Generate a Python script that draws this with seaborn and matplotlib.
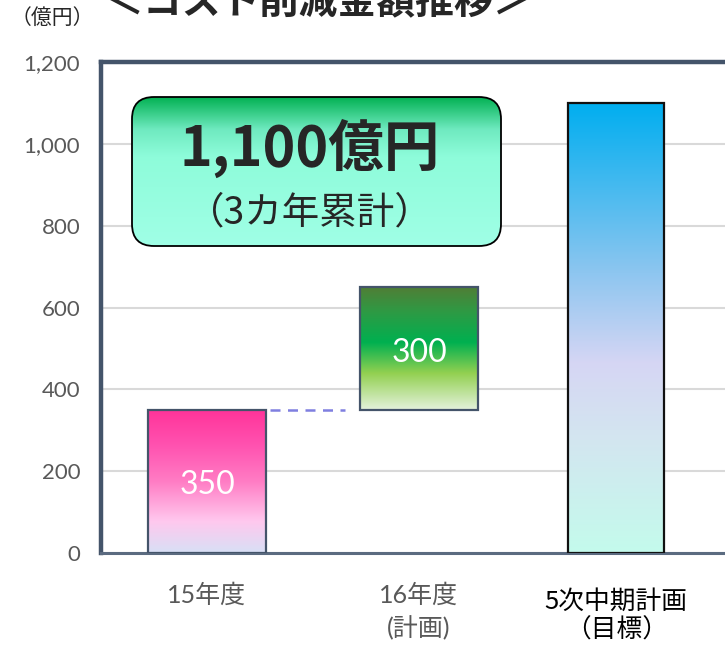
import numpy as np
import matplotlib
matplotlib.use("Agg")
import matplotlib.pyplot as plt
from matplotlib.colors import LinearSegmentedColormap
from matplotlib.patches import FancyBboxPatch
from matplotlib.transforms import ScaledTranslation
import seaborn as sns

# ---- data ----
categories = ["15年度", "16年度\n(計画)", "5次中期計画\n（目標）"]
values = [350, 300, 1100]
bottoms = [0, 350, 0]
value_labels = ["350", "300", ""]
yticks = [0, 200, 400, 600, 800, 1000, 1200]
title = "＜コスト削減金額推移＞"
unit = "（億円）"
box_main = "1,100億円"
box_sub = "（3カ年累計）"

# ---- style ----
sns.set_theme(style="white")
plt.rcParams["font.family"] = ["Lato", "Noto Sans CJK JP", "DejaVu Sans"]

xpos = [0.0, 1.0, 1.93]
widths = [0.557, 0.557, 0.45]
gradients = [
    ["#D8E0F6", "#FFC8EE", "#FF7CC4", "#FF52B0", "#FF3399"],
    ["#E4F2DC", "#92D050", "#00B050", "#2E9A44", "#507E36"],
    ["#C4FBEC", "#D3E6F0", "#D6D6F4", "#8EC6F0", "#00AEEF"],
]
grad_pos = [
    [0.0, 0.22, 0.5, 0.75, 1.0],
    [0.0, 0.3, 0.55, 0.8, 1.0],
    [0.0, 0.25, 0.42, 0.62, 1.0],
]
edgecolors = ["#44546A", "#44546A", "#111111"]

W, H = 725, 647
fig = plt.figure(figsize=(W / 100, H / 100), dpi=100)
ax = fig.add_axes([101 / W, 1 - 553 / H, (737 - 101) / W, (553 - 62) / H])

bars = ax.bar(xpos, values, width=widths, bottom=bottoms, facecolor="none",
              edgecolor=edgecolors, linewidth=1.6, zorder=3)

for bar, cols, pos in zip(bars, gradients, grad_pos):
    cmap = LinearSegmentedColormap.from_list("g", list(zip(pos, cols)))
    x0, y0 = bar.get_x(), bar.get_y()
    w, h = bar.get_width(), bar.get_height()
    grad = np.linspace(0, 1, 256).reshape(-1, 1)
    im = ax.imshow(grad, cmap=cmap, origin="lower", aspect="auto",
                   extent=[x0, x0 + w, y0, y0 + h], zorder=2)
    im.set_clip_path(bar)

for bar, lab in zip(bars, value_labels):
    if lab:
        ax.text(bar.get_x() + bar.get_width() / 2, bar.get_y() + bar.get_height() / 2 - 10,
                lab, color="white", ha="center", va="center", fontsize=23, zorder=4)

# dashed connector
ax.plot([bars[0].get_x() + bars[0].get_width() + 0.02, bars[1].get_x() - 0.07],
        [values[0], values[0]], ls=(0, (4, 3)), color="#7F7FE0", lw=1.8, zorder=3)

ax.set_xlim(-0.5, 2.5)
ax.set_ylim(0, 1200)
ax.set_yticks(yticks)
ax.set_yticklabels([f"{v:,}" for v in yticks], color="#595959", fontsize=16)
ax.yaxis.grid(True, color="#D9D9D9", lw=1.5, zorder=0)
ax.set_axisbelow(True)
ax.tick_params(axis="y", length=0, pad=15)
ax.tick_params(axis="x", length=0, pad=22)
ax.set_xticks(xpos)
ax.set_xticklabels(categories)
for i, t in enumerate(ax.get_xticklabels()):
    t.set_family(["Lato", "Noto Sans CJK JP"])
    t.set_va("top")
    if i == 2:
        t.set_color("black")
        t.set_fontsize(18.5)
        t.set_family(["Noto Sans CJK JP"])
        t.set_linespacing(1.1)
        t.set_transform(t.get_transform() + ScaledTranslation(0, -4 / 72, fig.dpi_scale_trans))
    else:
        t.set_color("#595959")
        t.set_fontsize(18)
        t.set_linespacing(1.4)

for s in ["left", "top"]:
    ax.spines[s].set_color("#44546A")
    ax.spines[s].set_linewidth(3.2)
ax.spines["right"].set_visible(False)
ax.spines["bottom"].set_color("#5B6B80")
ax.spines["bottom"].set_linewidth(2.2)

# title and unit
fig.text(318 / W, 1 - 3 / H, title, ha="center", va="center", fontsize=28,
         fontweight="bold", family=["Noto Sans CJK JP"])
fig.text(52 / W, 1 - 18 / H, unit, ha="center", va="center", fontsize=15,
         family=["Noto Sans CJK JP"])

# callout box
bx0, by0, bx1, by1 = 131, 96, 502, 247
bw, bh = bx1 - bx0, by1 - by0
bax = fig.add_axes([bx0 / W, 1 - by1 / H, bw / W, bh / H])
bax.set_xlim(0, bw)
bax.set_ylim(0, bh)
bax.axis("off")
box = FancyBboxPatch((1, 1), bw - 2, bh - 2, boxstyle="round,pad=0,rounding_size=22",
                     facecolor="none", edgecolor="black", lw=1.3, zorder=3)
bax.add_patch(box)
bcmap = LinearSegmentedColormap.from_list(
    "b", [(0, "#A0FFE6"), (0.6, "#8EFCDA"), (0.78, "#6FEAC0"), (1, "#00B050")])
gim = bax.imshow(np.linspace(0, 1, 256).reshape(-1, 1), cmap=bcmap, origin="lower",
                 aspect="auto", extent=[0, bw, 0, bh], zorder=2)
gim.set_clip_path(box)
bax.text(179, 99, box_main, ha="center", va="center", fontsize=40, fontweight="bold",
         family=["Noto Sans CJK JP"], zorder=4)
bax.text(179, 34, box_sub, ha="center", va="center", fontsize=27,
         family=["Noto Sans CJK JP"], zorder=4)

fig.savefig("out.png", dpi=100)
